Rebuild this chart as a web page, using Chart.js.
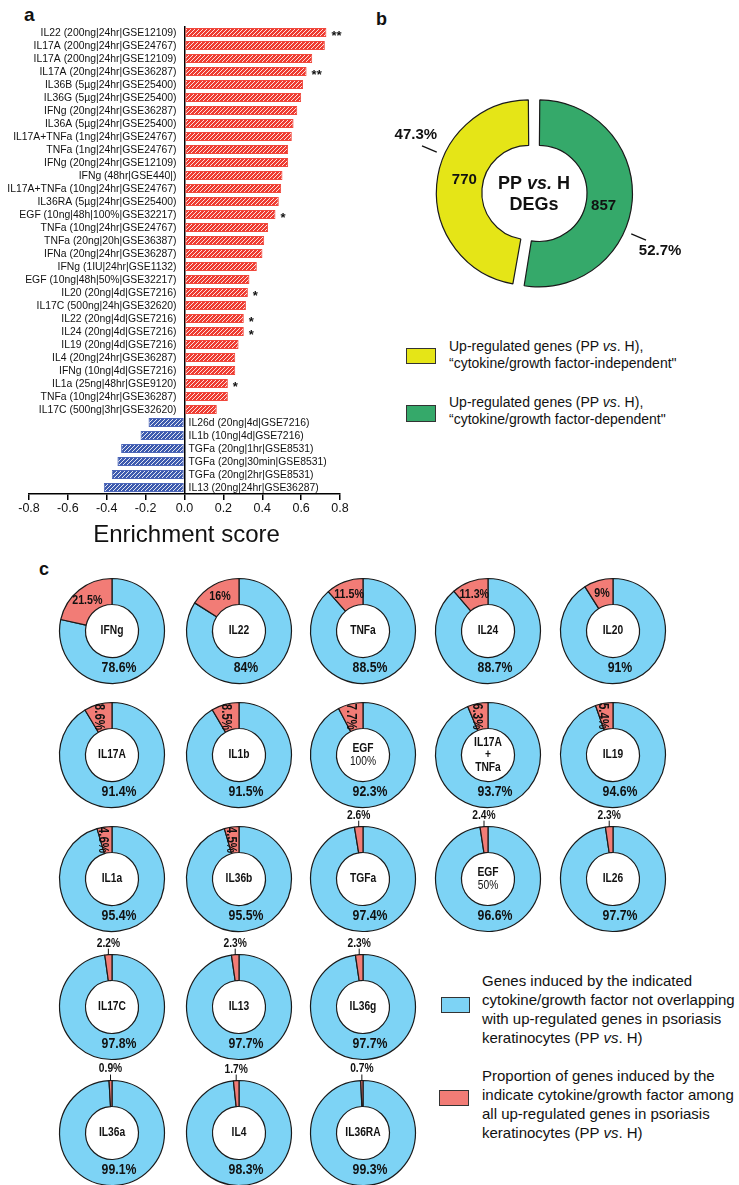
<!DOCTYPE html>
<html><head><meta charset="utf-8">
<script src="https://cdn.jsdelivr.net/npm/chart.js@4.4.1/dist/chart.umd.min.js"></script>
<style>
html,body{margin:0;padding:0;background:#fff;}
#root{position:relative;width:739px;height:1185px;overflow:hidden;font-family:"Liberation Sans",Arial,sans-serif;color:#111;}
.letter{position:absolute;font-weight:bold;line-height:1;}
.leg{position:absolute;white-space:nowrap;}
.box{position:absolute;border:1px solid #333;box-sizing:border-box;}
canvas{position:absolute;}
</style></head><body><div id="root">
<div class="letter" style="left:24px;top:5px;font-size:19px;">a</div>
<div class="letter" style="left:376px;top:10px;font-size:18px;">b</div>
<div class="letter" style="left:39px;top:560px;font-size:18px;">c</div>

<div class="box" style="left:406px;top:348px;width:30px;height:16px;background:#E5E517;"></div>
<div class="leg" style="left:449px;top:337.5px;font-size:14px;line-height:17px;">Up-regulated genes (PP <i>vs</i>. H),<br>“cytokine/growth factor-independent"</div>
<div class="box" style="left:406px;top:405px;width:30px;height:17px;background:#35A96A;"></div>
<div class="leg" style="left:449px;top:393.5px;font-size:14px;line-height:17px;">Up-regulated genes (PP <i>vs</i>. H),<br>“cytokine/growth factor-dependent"</div>

<div class="box" style="left:441px;top:997px;width:29px;height:16px;background:#7DD3F5;"></div>
<div class="leg" style="left:482px;top:970.5px;font-size:15px;line-height:19px;">Genes induced by the indicated<br>cytokine/growth factor not overlapping<br>with up-regulated genes in psoriasis<br>keratinocytes (PP <i>vs</i>. H)</div>
<div class="box" style="left:439px;top:1090px;width:30px;height:16px;background:#F27C76;"></div>
<div class="leg" style="left:482px;top:1065.5px;font-size:15px;line-height:19px;">Proportion of genes induced by the<br>indicate cytokine/growth factor among<br>all up-regulated genes in psoriasis<br>keratinocytes (PP <i>vs</i>. H)</div>
</div>
<script>
// ---------- DATA ----------
const barLabels = [
 'IL22 (200ng|24hr|GSE12109)','IL17A (200ng|24hr|GSE24767)','IL17A (200ng|24hr|GSE12109)','IL17A (20ng|24hr|GSE36287)',
 'IL36B (5µg|24hr|GSE25400)','IL36G (5µg|24hr|GSE25400)','IFNg (20ng|24hr|GSE36287)','IL36A (5µg|24hr|GSE25400)',
 'IL17A+TNFa (1ng|24hr|GSE24767)','TNFa (1ng|24hr|GSE24767)','IFNg (20ng|24hr|GSE12109)','IFNg (48hr|GSE440|)',
 'IL17A+TNFa (10ng|24hr|GSE24767)','IL36RA (5µg|24hr|GSE25400)','EGF (10ng|48h|100%|GSE32217)','TNFa (10ng|24hr|GSE24767)',
 'TNFa (20ng|20h|GSE36387)','IFNa (20ng|24hr|GSE36287)','IFNg (1IU|24hr|GSE1132)','EGF (10ng|48h|50%|GSE32217)',
 'IL20 (20ng|4d|GSE7216)','IL17C (500ng|24h|GSE32620)','IL22 (20ng|4d|GSE7216)','IL24 (20ng|4d|GSE7216)',
 'IL19 (20ng|4d|GSE7216)','IL4 (20ng|24hr|GSE36287)','IFNg (10ng|4d|GSE7216)','IL1a (25ng|48hr|GSE9120)',
 'TNFa (10ng|24hr|GSE36287)','IL17C (500ng|3hr|GSE32620)',
 'IL26d (20ng|4d|GSE7216)','IL1b (10ng|4d|GSE7216)','TGFa (20ng|1hr|GSE8531)','TGFa (20ng|30min|GSE8531)',
 'TGFa (20ng|2hr|GSE8531)','IL13 (20ng|24hr|GSE36287)'];
const barValues = [0.730,0.722,0.657,0.628,0.610,0.600,0.580,0.561,0.552,0.533,0.533,0.504,0.497,0.485,0.468,0.430,
 0.410,0.401,0.372,0.334,0.326,0.316,0.305,0.305,0.278,0.261,0.261,0.223,0.223,0.166,
 -0.185,-0.226,-0.326,-0.345,-0.374,-0.415];
const barStars = ['**','','','**','','','','','','','','','','','*','','','','','','*','','*','*','','','','*','','',
 '','','','','',''];
const xTickMin = -0.8, xTickMax = 0.8, xTickStep = 0.2;

const degLabels = ['cytokine/growth factor-dependent','cytokine/growth factor-independent'];
const degCounts = [857, 770];
const degPercents = [52.7, 47.3];

const cytoNames = ['IFNg','IL22','TNFa','IL24','IL20',
 'IL17A','IL1b','EGF\n100%','IL17A\n+\nTNFa','IL19',
 'IL1a','IL36b','TGFa','EGF\n50%','IL26',
 'IL17C','IL13','IL36g',
 'IL36a','IL4','IL36RA'];
const cytoOther  = [78.6,84,88.5,88.7,91, 91.4,91.5,92.3,93.7,94.6, 95.4,95.5,97.4,96.6,97.7, 97.8,97.7,97.7, 99.1,98.3,99.3];
const cytoShared = [21.5,16,11.5,11.3,9, 8.6,8.5,7.7,6.3,5.4, 4.6,4.5,2.6,2.4,2.3, 2.2,2.3,2.3, 0.9,1.7,0.7];

// ---------- LAYOUT / STYLE ----------
const FONT = '"Liberation Sans", Arial, sans-serif';
const NARROW_SCALE = 0.82;
const colX = [112, 238.5, 363, 487.5, 613];
const rowY = [631, 755, 879, 1007, 1133];
const perRow = [5,5,5,3,3];
const root = document.getElementById('root');

function mkCanvas(l,t,w,h){
  const c=document.createElement('canvas'); c.width=w; c.height=h;
  c.style.left=l+'px'; c.style.top=t+'px'; c.style.width=w+'px'; c.style.height=h+'px';
  root.appendChild(c); return c;
}
function hatch(ctx,color){
  const t=document.createElement('canvas'); t.width=4; t.height=4;
  const g=t.getContext('2d'); g.fillStyle=color; g.fillRect(0,0,4,4);
  g.fillStyle='rgba(255,255,255,0.85)';
  for(let k=0;k<4;k++) g.fillRect(k,3-k,1,1);
  return ctx.createPattern(t,'repeat');
}
const fmt = v => v + '%';
function narrowText(ctx, txt, x, y, rot){
  ctx.save(); ctx.translate(x,y); if(rot) ctx.rotate(rot); ctx.scale(NARROW_SCALE,1);
  ctx.fillText(txt,0,0); ctx.restore();
}

// ---------- PANEL A ----------
const cA = mkCanvas(0,0,370,550);
const ctxA = cA.getContext('2d');
const redPat = hatch(ctxA,'#EE3B30'), bluePat = hatch(ctxA,'#3D5AAE');
const aLabels = {id:'aLabels', afterDatasetsDraw(chart){
  const ctx=chart.ctx, xs=chart.scales.x, ys=chart.scales.y;
  const x0=xs.getPixelForValue(0);
  ctx.save(); ctx.fillStyle='#111'; ctx.textBaseline='middle';
  barValues.forEach((v,i)=>{
    const y=ys.getPixelForValue(i);
    ctx.font='10.4px '+FONT;
    if(v>=0){ctx.textAlign='right'; ctx.fillText(barLabels[i], x0-8, y+0.5);}
    else {ctx.textAlign='left'; ctx.fillText(barLabels[i], x0+4, y+0.5);}
    if(barStars[i]){ctx.textAlign='left'; ctx.font='bold 13px '+FONT; ctx.fillText(barStars[i], xs.getPixelForValue(v)+5, y+3.5);}
  });
  ctx.textAlign='center'; ctx.font='24px '+FONT; ctx.fillText('Enrichment score', x0+2, 535);
  ctx.restore();
}};
new Chart(ctxA,{
  type:'bar',
  data:{labels:barLabels, datasets:[{data:barValues,
    backgroundColor:c=>c.raw>=0?redPat:bluePat,
    borderColor:c=>c.raw>=0?'#F0473C':'#4B65B8',
    borderWidth:1, borderSkipped:false, barPercentage:0.68, categoryPercentage:1}]},
  options:{indexAxis:'y', responsive:false, animation:false, events:[], devicePixelRatio:1,
    layout:{padding:{left:29,right:30,top:26,bottom:0}},
    plugins:{legend:{display:false}, tooltip:{enabled:false}},
    scales:{
      x:{min:xTickMin, max:xTickMax,
        ticks:{stepSize:xTickStep, autoSkip:false, maxRotation:0, padding:1, color:'#111', font:{size:12.5, family:FONT},
          callback:v=>Math.abs(v)<1e-9?'0.0':(+v).toFixed(1)},
        grid:{color:c=>(c.tick && Math.abs(c.tick.value)<1e-9)?'#000':'rgba(0,0,0,0)', lineWidth:1.5,
          tickColor:'#000', tickWidth:1.5, tickLength:6, drawOnChartArea:true, drawTicks:true},
        border:{display:true, color:'#000', width:1.5},
        afterFit:s=>{s.height=56;}},
      y:{display:false}
    }},
  plugins:[aLabels]
});

// ---------- PANEL B ----------
const cB = mkCanvas(374,63,320,260);
const bLabels = {id:'bLabels', afterDatasetsDraw(chart){
  const ctx=chart.ctx, meta=chart.getDatasetMeta(0);
  ctx.save(); ctx.fillStyle='#111'; ctx.strokeStyle='#111'; ctx.lineWidth=1.2;
  ctx.textAlign='center'; ctx.textBaseline='middle';
  let cx=0, cy=0;
  const deg=Math.PI/180;
  meta.data.forEach((arc,i)=>{
    const {x,y,startAngle,endAngle,innerRadius,outerRadius}=arc;
    cx=x; cy=y;
    const mid=(startAngle+endAngle)/2, off=5;
    const rm=(innerRadius+outerRadius)/2+off, am=mid+5.5*deg;
    ctx.font='bold 15px '+FONT;
    ctx.fillText(String(degCounts[i]), x+Math.cos(am)*rm, y+Math.sin(am)*rm);
    const a=mid+18*deg;
    const r1=outerRadius+17, r2=outerRadius+33;
    const p1x=x+Math.cos(a)*r1, p1y=y+Math.sin(a)*r1, p2x=x+Math.cos(a)*r2, p2y=y+Math.sin(a)*r2;
    ctx.beginPath(); ctx.moveTo(p1x,p1y); ctx.lineTo(p2x,p2y); ctx.stroke();
    const s=Math.sign(Math.sin(a));
    ctx.fillText(degPercents[i]+'%', p2x+Math.cos(a)*11+4, p2y+s*11);
  });
  // centre text
  const parts=[['PP ','bold 18px '+FONT],['vs.','italic bold 18px '+FONT],[' H','bold 18px '+FONT]];
  let w=0; parts.forEach(p=>{ctx.font=p[1]; w+=ctx.measureText(p[0]).width;});
  let xx=cx-w/2; ctx.textAlign='left';
  parts.forEach(p=>{ctx.font=p[1]; ctx.fillText(p[0], xx, cy-9); xx+=ctx.measureText(p[0]).width;});
  ctx.textAlign='center'; ctx.font='bold 18px '+FONT; ctx.fillText('DEGs', cx, cy+12);
  ctx.restore();
}};
new Chart(cB.getContext('2d'),{
  type:'doughnut',
  data:{labels:degLabels, datasets:[{data:degCounts, backgroundColor:['#35A96A','#E5E517'],
    borderColor:'#1a1a1a', borderWidth:1.2, offset:20}]},
  options:{responsive:false, animation:false, events:[], devicePixelRatio:1, radius:88.5, cutout:'48.6%',
    plugins:{legend:{display:false}, tooltip:{enabled:false}}},
  plugins:[bLabels]
});

// ---------- PANEL C ----------
function cPlugin(i){ return {id:'c'+i, afterDatasetsDraw(chart){
  const ctx=chart.ctx, meta=chart.getDatasetMeta(0);
  const blue=meta.data[0], red=meta.data[1];
  const x=blue.x, y=blue.y, ri=blue.innerRadius, ro=blue.outerRadius;
  ctx.save(); ctx.fillStyle='#111'; ctx.strokeStyle='#111'; ctx.textAlign='center'; ctx.textBaseline='middle';
  const lines=cytoNames[i].split('\n'), lh=12.5;
  lines.forEach((ln,k)=>{ctx.font=(ln.includes('%')?'':'bold ')+'12.5px '+FONT;
    narrowText(ctx, ln, x, y+(k-(lines.length-1)/2)*lh);});
  ctx.font='bold 15px '+FONT;
  narrowText(ctx, fmt(cytoOther[i]), x+7, y+37);
  const v=cytoShared[i], mid=(red.startAngle+red.endAngle)/2, rm=(ri+ro)/2;
  if(v>=9){ ctx.font='bold 13px '+FONT; narrowText(ctx, fmt(v), x+Math.cos(mid)*rm, y+Math.sin(mid)*rm); }
  else if(v>=4){ ctx.font='bold 14px '+FONT; narrowText(ctx, fmt(v), x+Math.cos(mid)*rm-3, y+Math.sin(mid)*rm, Math.PI/2); }
  else { const px=x+Math.cos(mid)*ro, py=y+Math.sin(mid)*ro;
    ctx.lineWidth=1; ctx.beginPath(); ctx.moveTo(px,py); ctx.lineTo(px,py-6); ctx.stroke();
    ctx.font='bold 12.5px '+FONT; narrowText(ctx, fmt(v), px, py-11.5); }
  ctx.restore();
}};}
let idx=0;
perRow.forEach((n,r)=>{
  for(let c=0;c<n;c++){
    const i=idx++;
    const cv=mkCanvas(colX[c]-70, rowY[r]-70, 140, 140);
    new Chart(cv.getContext('2d'),{
      type:'doughnut',
      data:{labels:['other','shared'], datasets:[{data:[cytoOther[i], cytoShared[i]],
        backgroundColor:['#7DD3F5','#F27C76'], borderColor:'#1a1a1a', borderWidth:1.2}]},
      options:{responsive:false, animation:false, events:[], devicePixelRatio:1, radius:52.5, cutout:'50.5%',
        plugins:{legend:{display:false}, tooltip:{enabled:false}}},
      plugins:[cPlugin(i)]
    });
  }
});
</script>
</body></html>
